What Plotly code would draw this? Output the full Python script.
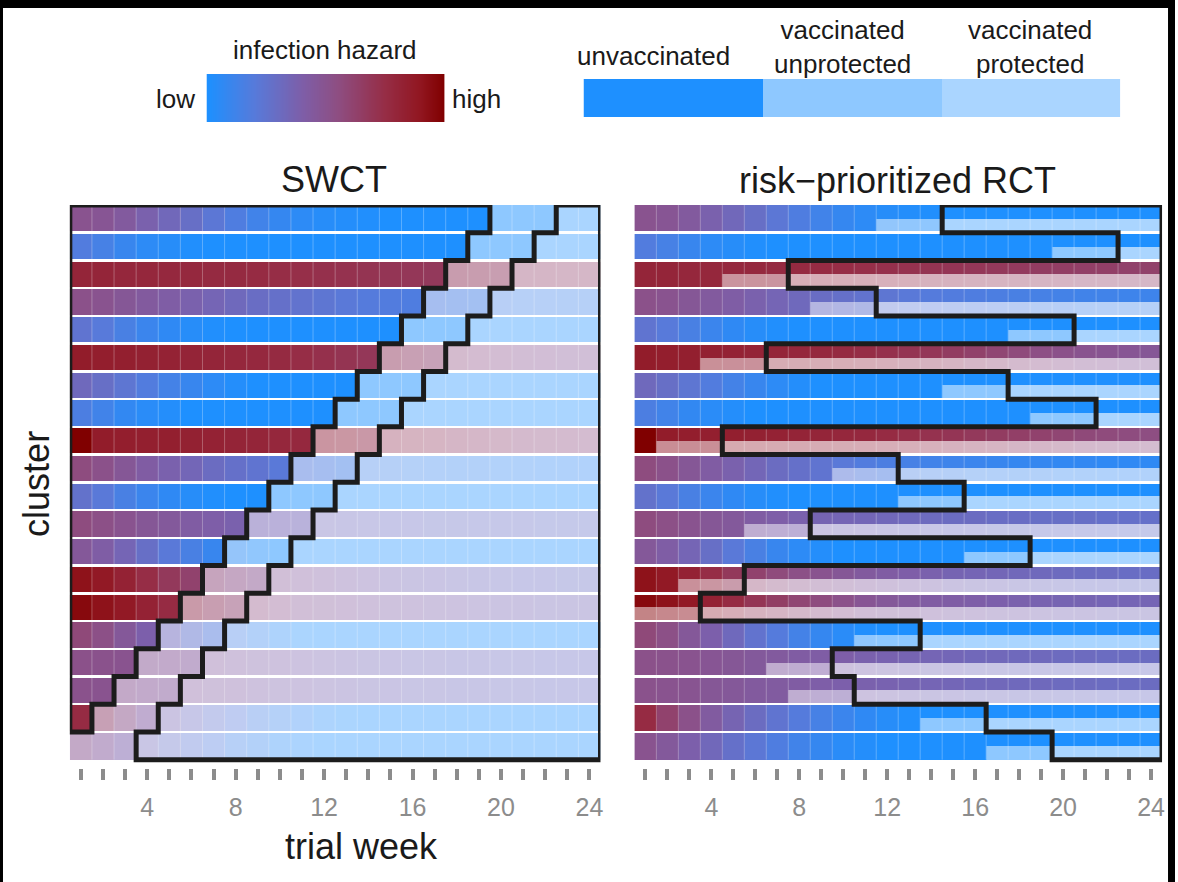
import plotly.graph_objects as go

# ---------------------------------------------------------------- data
WEEKS = list(range(1, 25))
N_CLUSTERS = 20
UNPROTECTED_WEEKS = 3

# weekly infection hazard per cluster (0 = low, 100 = high), clusters top to bottom
hazard = [
    [50, 48, 44, 38, 33, 28, 22, 17, 12, 8, 5, 3, 2, 1, 0, 0, 0, 0, 0, 0, 0, 0, 0, 0],
    [18, 14, 9, 5, 3, 1, 0, 0, 0, 0, 0, 0, 0, 0, 0, 0, 0, 0, 0, 0, 0, 0, 0, 0],
    [80, 80, 79, 79, 78, 78, 77, 77, 76, 75, 74, 73, 72, 71, 70, 69, 68, 67, 66, 65, 64, 64, 63, 63],
    [52, 50, 47, 44, 41, 38, 35, 32, 29, 27, 25, 23, 21, 19, 18, 17, 16, 15, 14, 13, 12, 12, 11, 11],
    [24, 20, 15, 10, 6, 3, 1, 0, 0, 0, 0, 0, 0, 0, 0, 0, 0, 0, 0, 0, 0, 0, 0, 0],
    [86, 85, 84, 83, 82, 81, 80, 79, 78, 77, 75, 73, 71, 69, 66, 63, 60, 57, 54, 52, 50, 49, 48, 47],
    [32, 28, 23, 18, 13, 9, 5, 2, 0, 0, 0, 0, 0, 0, 0, 0, 0, 0, 0, 0, 0, 0, 0, 0],
    [16, 12, 7, 4, 2, 0, 0, 0, 0, 0, 0, 0, 0, 0, 0, 0, 0, 0, 0, 0, 0, 0, 0, 0],
    [100, 86, 85, 84, 84, 83, 82, 81, 80, 79, 78, 76, 74, 72, 70, 68, 66, 64, 62, 60, 58, 57, 56, 55],
    [56, 52, 47, 42, 38, 34, 30, 27, 24, 21, 18, 16, 14, 12, 11, 10, 9, 8, 8, 7, 7, 6, 6, 6],
    [26, 21, 15, 10, 6, 3, 1, 0, 0, 0, 0, 0, 0, 0, 0, 0, 0, 0, 0, 0, 0, 0, 0, 0],
    [56, 53, 50, 47, 45, 42, 40, 38, 36, 35, 34, 33, 32, 31, 30, 30, 29, 29, 28, 28, 28, 27, 27, 27],
    [46, 41, 35, 28, 21, 15, 9, 5, 2, 0, 0, 0, 0, 0, 0, 0, 0, 0, 0, 0, 0, 0, 0, 0],
    [92, 88, 82, 75, 68, 62, 57, 53, 50, 47, 44, 42, 40, 38, 36, 35, 34, 33, 32, 31, 30, 30, 29, 29],
    [96, 92, 88, 82, 76, 70, 65, 60, 56, 52, 48, 46, 44, 42, 41, 40, 39, 38, 37, 36, 36, 35, 35, 35],
    [58, 53, 46, 39, 32, 25, 19, 13, 8, 4, 1, 0, 0, 0, 0, 0, 0, 0, 0, 0, 0, 0, 0, 0],
    [52, 51, 50, 48, 47, 45, 44, 42, 41, 40, 38, 37, 36, 35, 34, 33, 33, 32, 32, 31, 31, 30, 30, 30],
    [51, 50, 49, 47, 46, 44, 43, 42, 40, 39, 38, 37, 36, 35, 34, 33, 33, 32, 32, 31, 31, 30, 30, 30],
    [76, 62, 52, 43, 36, 30, 24, 19, 14, 10, 6, 3, 1, 0, 0, 0, 0, 0, 0, 0, 0, 0, 0, 0],
    [50, 45, 39, 33, 27, 22, 17, 12, 8, 4, 2, 0, 0, 0, 0, 0, 0, 0, 0, 0, 0, 0, 0, 0],
]

# week in which each cluster is vaccinated
swct_vacc_week = [20, 19, 18, 17, 16, 15, 14, 13, 12, 11, 10, 9, 8, 7, 6, 5, 4, 3, 2, 1]
rct_vacc_week = [12, 20, 5, 9, 18, 4, 15, 19, 2, 10, 13, 6, 16, 3, 1, 11, 7, 8, 14, 17]

tick_labels = {4: "4", 8: "8", 12: "12", 16: "16", 20: "20", 24: "24"}
status_names = ["unvaccinated", "vaccinated<br>unprotected", "vaccinated<br>protected"]

# ---------------------------------------------------------------- colours
FONT = "Liberation Sans, Arial, Helvetica, sans-serif"
BASE_STOPS = [
    (0.00, (30, 144, 255)),
    (0.20, (88, 122, 218)),
    (0.40, (126, 94, 168)),
    (0.55, (142, 78, 130)),
    (0.75, (150, 45, 70)),
    (0.90, (145, 22, 32)),
    (1.00, (128, 0, 0)),
]
STATUS_ALPHA = [1.0, 0.5, 0.38]   # tint towards white for each vaccination status


def tint(c, a):
    return tuple(round(255 - (255 - v) * a) for v in c)


colorscale = []
for s, a in enumerate(STATUS_ALPHA):
    for h, c in BASE_STOPS:
        colorscale.append([(2 * s + h) / 5.0, "rgb(%d,%d,%d)" % tint(c, a)])


def code(h, status):
    """Map hazard (0-100) and vaccination status onto the combined colour scale."""
    return 2 * status + h / 100.0


def status_at(week, vacc_week):
    if vacc_week is None or week < vacc_week:
        return 0
    if week < vacc_week + UNPROTECTED_WEEKS:
        return 1
    return 2


GAP = 0.09  # white separation between clusters (in row units)


def build_panel(vacc_weeks, split):
    z, edges = [], [0.0]
    for i in range(N_CLUSTERS):
        bot = i + 1 - (GAP / 2 if i < N_CLUSTERS - 1 else 0)
        if split:
            z.append([code(hazard[i][w - 1], 0) for w in WEEKS])
            edges.append(i + 0.5)
            z.append([code(hazard[i][w - 1], status_at(w, vacc_weeks[i])) for w in WEEKS])
            edges.append(bot)
        else:
            z.append([code(hazard[i][w - 1], status_at(w, vacc_weeks[i])) for w in WEEKS])
            edges.append(bot)
        if i < N_CLUSTERS - 1:
            z.append([None] * len(WEEKS))
            edges.append(i + 1 + GAP / 2)
    return z, edges


x_edges = [w - 0.5 for w in WEEKS] + [WEEKS[-1] + 0.5]

fig = go.Figure()
for k, (vw, split) in enumerate([(swct_vacc_week, False), (rct_vacc_week, True)]):
    z, y_edges = build_panel(vw, split)
    fig.add_trace(go.Heatmap(
        z=z, x=x_edges, y=y_edges, colorscale=colorscale, zmin=0, zmax=5,
        showscale=False, hoverinfo="skip",
        xaxis="x" if k == 0 else "x2", yaxis="y" if k == 0 else "y2",
    ))

# legend: hazard gradient
grad = [i / 99.0 for i in range(100)]
fig.add_trace(go.Heatmap(z=[grad], colorscale=colorscale, zmin=0, zmax=5, zsmooth="best",
                         showscale=False, hoverinfo="skip", xaxis="x3", yaxis="y3"))
# legend: vaccination status
fig.add_trace(go.Heatmap(z=[[code(0, s) for s in range(3)]], colorscale=colorscale, zmin=0, zmax=5,
                         showscale=False, hoverinfo="skip", xaxis="x4", yaxis="y4"))

# ---------------------------------------------------------------- outlines
LINE = dict(color="#1c1c1c", width=5)
X_LEFT, X_RIGHT = WEEKS[0] - 0.5, WEEKS[-1] + 0.5


def right_open_path(x_left_rows):
    """Polygon bounded by a per-row left edge and the right edge of the panel."""
    pts = [(x_left_rows[0], 0), (X_RIGHT, 0), (X_RIGHT, N_CLUSTERS), (x_left_rows[-1], N_CLUSTERS)]
    for r in range(N_CLUSTERS - 1, 0, -1):
        pts.append((x_left_rows[r], r))
        pts.append((x_left_rows[r - 1], r))
    return "M " + " L ".join("%g,%g" % p for p in pts) + " Z"


def left_open_path(x_right_rows):
    """Polygon bounded by the left edge of the panel and a per-row right edge."""
    rows = [r for r in range(N_CLUSTERS) if x_right_rows[r] > X_LEFT]
    last = rows[-1] + 1
    pts = [(X_LEFT, 0)]
    for r in rows:
        pts.append((x_right_rows[r], r))
        pts.append((x_right_rows[r], r + 1))
    pts.append((X_LEFT, last))
    return "M " + " L ".join("%g,%g" % p for p in pts) + " Z"


shapes = []
swct_unvacc_right = [v - 0.5 for v in swct_vacc_week]
swct_prot_left = [v + UNPROTECTED_WEEKS - 0.5 for v in swct_vacc_week]
rct_prot_left = [v + UNPROTECTED_WEEKS - 0.5 for v in rct_vacc_week]

# faint week separators
for xr, yr in (("x", "y"), ("x2", "y2")):
    for w in WEEKS[:-1]:
        shapes.append(dict(type="line", xref=xr, yref=yr, x0=w + 0.5, x1=w + 0.5, y0=0, y1=N_CLUSTERS,
                           line=dict(color="rgba(255,255,255,0.28)", width=1), layer="above"))

shapes.append(dict(type="path", xref="x", yref="y", path=left_open_path(swct_unvacc_right), line=LINE))
shapes.append(dict(type="path", xref="x", yref="y", path=right_open_path(swct_prot_left), line=LINE))
shapes.append(dict(type="path", xref="x2", yref="y2", path=right_open_path(rct_prot_left), line=LINE))

# ---------------------------------------------------------------- layout
W, H = 1178, 882


def px(x0, x1):
    return [x0 / W, x1 / W]


def py(y_top, y_bot):
    return [1 - y_bot / H, 1 - y_top / H]


# dark frame along the top and side edges of the page
for x0, y0, x1, y1 in ((0, 0, W, 8), (W - 7, 0, W, H), (0, 0, 3, H)):
    shapes.append(dict(type="rect", xref="paper", yref="paper",
                       x0=x0 / W, x1=x1 / W, y0=1 - y1 / H, y1=1 - y0 / H,
                       fillcolor="black", line=dict(width=0), layer="above"))

week_axis = dict(
    range=[X_LEFT, X_RIGHT], tickmode="array", tickvals=WEEKS,
    ticktext=[tick_labels.get(w, "") for w in WEEKS],
    ticks="outside", ticklen=11, tickwidth=4, tickcolor="#8c8c8c",
    tickfont=dict(family=FONT, size=25, color="#8c8c8c"), ticklabelstandoff=6,
    showgrid=False, zeroline=False, showline=False, fixedrange=True,
)
cluster_axis = dict(range=[N_CLUSTERS + 0.3, 0], visible=False, fixedrange=True)
hidden = dict(visible=False, fixedrange=True)

annotations = []


def label(text, x, y, size, color="#1a1a1a", angle=0):
    annotations.append(dict(text=text, x=x / W, y=1 - y / H, xref="paper", yref="paper",
                            showarrow=False, textangle=angle, xanchor="center", yanchor="middle",
                            font=dict(family=FONT, size=size, color=color)))


label("infection hazard", 326, 50, 26)
label("low", 176, 99, 26)
label("high", 478, 99, 26)
label(status_names[0], 655, 56, 26)
label(status_names[1], 845, 47, 26)
label(status_names[2], 1033, 47, 26)
label("SWCT", 335, 179, 36)
label("risk\u2212prioritized RCT", 900, 181, 36)
label("cluster", 36, 484, 36, angle=-90)
label("trial week", 362, 846, 36)

fig.update_layout(
    width=W, height=H, margin=dict(l=0, r=0, t=0, b=0),
    paper_bgcolor="white", plot_bgcolor="white", showlegend=False,
    xaxis=dict(domain=px(70, 602), anchor="y", **week_axis),
    yaxis=dict(domain=py(205, 768), anchor="x", **cluster_axis),
    xaxis2=dict(domain=px(636, 1165), anchor="y2", **week_axis),
    yaxis2=dict(domain=py(205, 768), anchor="x2", **cluster_axis),
    xaxis3=dict(domain=px(207, 446), anchor="y3", **hidden),
    yaxis3=dict(domain=py(74, 122), anchor="x3", **hidden),
    xaxis4=dict(domain=px(585, 1123), anchor="y4", **hidden),
    yaxis4=dict(domain=py(79, 117), anchor="x4", **hidden),
    shapes=shapes, annotations=annotations,
)

fig.write_html("out.html")
